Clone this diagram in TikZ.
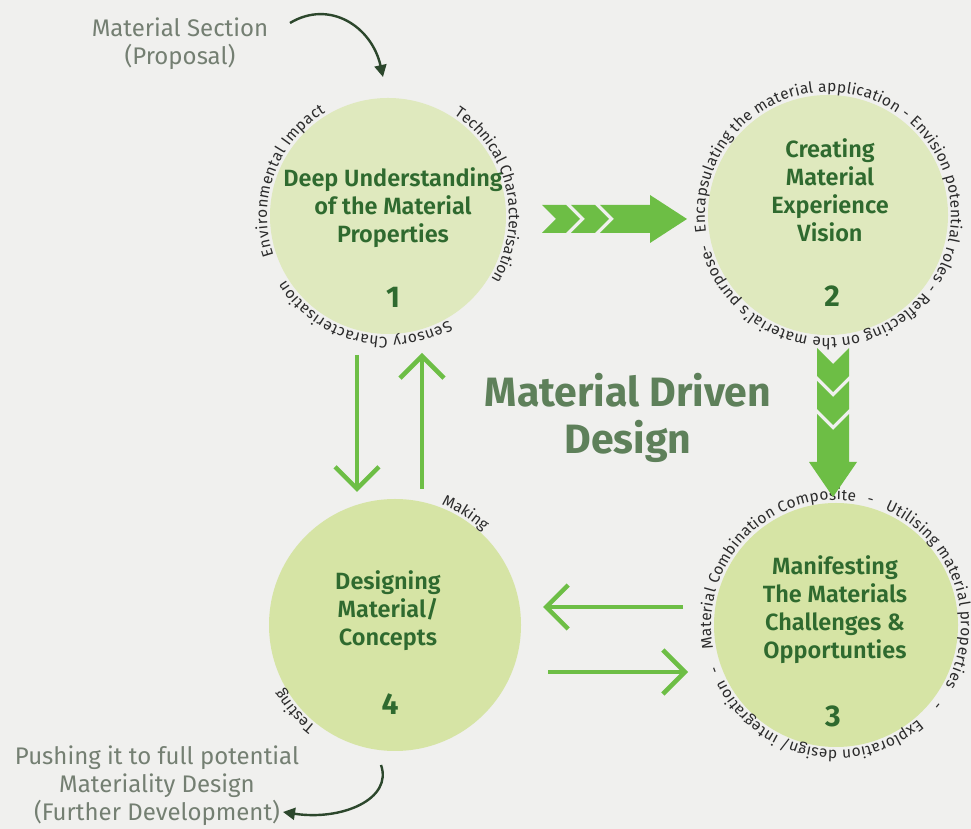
\documentclass[tikz,border=0pt]{standalone}
\usepackage{fontspec}
\setmainfont{Fira Sans}
\newfontfamily\semifont{Fira Sans SemiBold}
\usetikzlibrary{arrows.meta,decorations.text}

\definecolor{bgc}{HTML}{F0F0EE}
\definecolor{discA}{HTML}{DFE9BE}
\definecolor{discB}{HTML}{D6E4A5}
\definecolor{ink}{HTML}{2F6A2F}
\definecolor{leaf}{HTML}{6DBE45}
\definecolor{sage}{HTML}{5E805A}
\definecolor{notec}{HTML}{747F72}
\definecolor{curlc}{HTML}{2C472C}
\definecolor{rim}{HTML}{2B2B2B}

\newcommand\rimfont{\fontsize{15.5}{16}\selectfont}
% text spread along a clockwise arc just outside a disc
\newcommand\rimarc[5]{%
  \path[decorate,decoration={text along path,text={|\rimfont|#5},
        text align=fit to path,text color=rim}]
    ([shift={(#3:#2pt)}]#1.center) arc[start angle=#3,end angle=#4,radius=#2pt];}
% a short word set from a given angle onward
\newcommand\rimword[4]{%
  \path[decorate,decoration={text along path,text={|\rimfont|#4},
        text align=left,text color=rim}]
    ([shift={(#3:#2pt)}]#1.center) arc[start angle=#3,end angle=#3-60,radius=#2pt];}

\tikzset{
  disc/.style={circle,inner sep=0pt,minimum size=#1},
  stage/.style={font=\fontsize{23.5}{28}\semifont,text=ink,align=center},
  num/.style={font=\fontsize{30}{30}\selectfont\bfseries,text=ink},
  title/.style={font=\fontsize{41}{47}\selectfont\bfseries,text=sage,align=center},
  notetext/.style={font=\fontsize{24}{28}\selectfont,text=notec,align=center},
  link/.style={draw=leaf,line width=4.5pt,-{Straight Barb[length=22pt,width=44pt]}},
  curl/.style={draw=curlc,line width=2.4pt,-{Triangle[length=12pt,width=12pt]}},
}

\begin{document}
\begin{tikzpicture}[x=1pt,y=1pt]
\fill[bgc] (0,0) rectangle (971,829);
\useasboundingbox (0,0) rectangle (971,829);

% the four stages
\node[disc=236pt,fill=discA] (c1) at (388,613) {};
\node[disc=240pt,fill=discA] (c2) at (828,614) {};
\node[disc=244pt,fill=discB] (c3) at (836,204) {};
\node[disc=252pt,fill=discB] (c4) at (395,204) {};

\node[stage] (t1) at (393,621) {Deep Understanding\\of the Material\\Properties};
\node[num]   (n1) at (393,532) {1};
\node[stage] (t2) at (830,639) {Creating\\Material\\Experience\\Vision};
\node[num]   (n2) at (832,533) {2};
\node[stage] (t3) at (835,219) {Manifesting\\The Materials\\Challenges \&\\Opportunties};
\node[num]   (n3) at (833,113) {3};
\node[stage] (t4) at (388,218) {Designing\\Material/\\Concepts};
\node[num]   (n4) at (390,125) {4};

% words around the rims
\rimarc{c1}{121}{199}{121}{Environmental Impact}
\rimarc{c1}{121}{57}{-31}{Technical Characterisation}
\rimarc{c1}{121}{-60}{-148}{Sensory Characterisation}

\rimarc{c2}{123}{188}{-166}{Encapsulating the material application - Envision potential roles - Reflecting on the material's purpose-}

\rimarc{c3}{125}{191}{81}{Material Combination Composite}
\rimword{c3}{125}{76}{-}
\rimarc{c3}{125}{67}{-29}{Utilising material properties}
\rimword{c3}{125}{-37}{-}
\rimarc{c3}{125}{-49}{-154}{Exploration design/ integration}
\rimword{c3}{125}{-158}{-}

\rimword{c4}{129}{69}{Making}
\rimword{c4}{129}{232}{Testing}

% centre title
\node[title] (ttl) at (628,411) {Material Driven\\Design};

% chevron arrow from stage 1 to stage 2
\foreach \b in {542,571}
  \fill[leaf] (\b,624) -- (\b+24,624) -- (\b+38,610) -- (\b+24,596) -- (\b,596) -- (\b+14,610) -- cycle;
\fill[leaf] (600,624) -- (650,624) -- (650,634) -- (687,610) -- (650,586) -- (650,596)
  -- (600,596) -- (614,610) -- cycle;

% chevron arrow from stage 2 to stage 3
\foreach \b in {481,448}
  \fill[leaf] (817,\b) -- (817,\b-28) -- (833,\b-44) -- (849,\b-28) -- (849,\b) -- (833,\b-16) -- cycle;
\fill[leaf] (817,415) -- (833,399) -- (849,415) -- (849,367) -- (857,367) -- (833,332)
  -- (809,367) -- (817,367) -- cycle;

% loops between stages 1, 3 and 4
\coordinate (a1) at (357,474);
\coordinate (a2) at (357,337);
\coordinate (b1) at (422,340);
\coordinate (b2) at (422,476);
\coordinate (e1) at (683,222);
\coordinate (e2) at (543,222);
\coordinate (f1) at (548,157);
\coordinate (f2) at (688,157);
\draw[link] (a1) -- (a2);
\draw[link] (b1) -- (b2);
\draw[link] (e1) -- (e2);
\draw[link] (f1) -- (f2);

% entry and exit notes
\node[notetext] (in) at (180,785) {Material Section\\(Proposal)};
\node[notetext] (out) at (157,43) {Pushing it to full potential\\Materiality Design\\(Further Development)};
\coordinate (p1) at (290,806);
\coordinate (p2) at (383,752);
\coordinate (q1) at (381,64);
\coordinate (q2) at (283,17);
\draw[curl] (p1) .. controls (330,830) and (372,802) .. (p2);
\draw[curl] (q1) .. controls (393,30) and (342,8) .. (q2);
\end{tikzpicture}
\end{document}
